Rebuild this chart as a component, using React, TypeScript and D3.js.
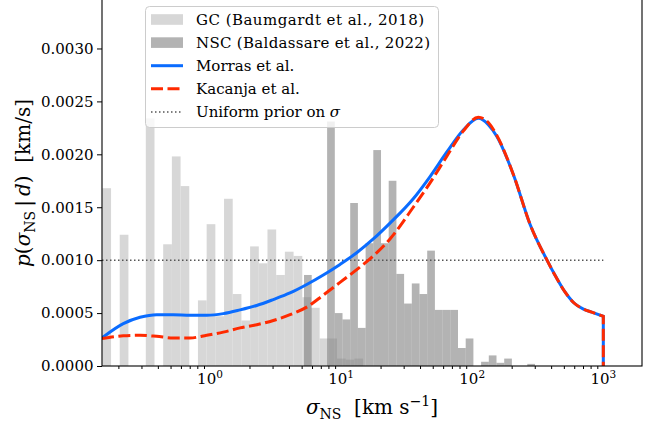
import React, { useRef, useEffect } from 'react';
import * as d3 from 'd3';

// histogram of GC dispersions (Baumgardt et al., 2018): log bins starting at gcBinLo, width gcBinDex (dex)
const gcBinLo = 0.1509;
const gcBinDex = 0.0663;
const gcHeights = [0.00168, 0, 0.00124, 0, 0, 0.00234, 0, 0.00115, 0.00198, 0.0017, 0, 0.00062, 0.00134, 0.00047, 0.00158,
  0.00068, 0.00043, 0.00113, 0.00097, 0.00129, 0.00086, 0.00108, 0.00104, 0.00065, 0.00055, 0.00026, 0.00026, 0.00007, 0.00006, 0.00007];

// histogram of NSC dispersions (Baldassare et al., 2022)
const nscBinLo = 5.212;
const nscBinDex = 0.05873;
const nscHeights = [0.00086, 0, 0, 0.00231, 0.0005, 0.00044, 0.00154, 0.00036, 0.00116, 0.00204, 0.00116, 0.00175, 0.00087, 0.00059,
  0.00078, 0.00068, 0.00109, 0.00053, 0.00053, 0.00053, 0.00017, 0.00026, 0, 0.00004, 0.0001, 0.00003, 0.00007, 0, 0, 0.00002];

// posterior curves p(sigma_NS | d)
const sigmaGrid = [0.15, 0.218, 0.2924, 0.392, 0.525, 0.704, 0.944, 1.263, 1.694, 2.271, 3.04, 4.076, 5.466, 7.314, 9.81, 13.15,
  17.6, 23.6, 35.5, 47.7, 63.9, 85.5, 111.3, 132.7, 153.8, 205.9, 276, 372, 436, 510, 598, 700, 835, 1000];
const morras = [0.000265, 0.0004, 0.00046, 0.000485, 0.000485, 0.00048, 0.00048, 0.000495, 0.00053, 0.000572, 0.000628, 0.00069,
  0.00077, 0.00086, 0.00096, 0.00107, 0.0012, 0.00135, 0.00158, 0.00179, 0.00202, 0.00223, 0.00234, 0.00228, 0.00217, 0.00181,
  0.00134, 0.001, 0.00084, 0.0007, 0.000595, 0.00054, 0.000505, 0.00047];
const kacanja = [0.00026, 0.000285, 0.00029, 0.00028, 0.000265, 0.000265, 0.00029, 0.00032, 0.00036, 0.00039, 0.00043, 0.000485,
  0.000556, 0.00067, 0.00079, 0.00091, 0.00104, 0.0012, 0.0015, 0.00173, 0.00198, 0.00222, 0.00235, 0.0023, 0.00218, 0.00181,
  0.00134, 0.001, 0.00084, 0.0007, 0.000595, 0.00054, 0.000505, 0.00047];

// uniform prior on sigma
const priorSigma = [0.15, 1000];
const priorP = [0.001, 0.001];

const xMajor = [1, 10, 100, 1000];
const yTicks = [0, 0.0005, 0.001, 0.0015, 0.002, 0.0025, 0.003];

const FONT = 'DejaVu Serif';
const BLUE = '#0a6cff';
const RED = '#ff2a00';

const Chart = function () {
  const svgRef = useRef(null);
  useEffect(function () {
    const left = 102, right = 642, top = 0, bottom = 366;
    const svg = d3.select(svgRef.current);
    svg.selectAll('*').remove();

    const x = d3.scaleLog().domain([0.15, 1973]).range([left, right]);
    const y = d3.scaleLinear().domain([0, 0.003458]).range([bottom, top]);

    svg.append('defs').append('clipPath').attr('id', 'plotclip')
      .append('rect').attr('x', left).attr('y', top).attr('width', right - left).attr('height', bottom - top);

    const plot = svg.append('g').attr('clip-path', 'url(#plotclip)');

    // histograms
    const drawHist = function (lo, dex, heights, fill, opacity) {
      const bins = heights.map(function (h, i) {
        return { a: lo * Math.pow(10, i * dex), b: lo * Math.pow(10, (i + 1) * dex), h: h };
      }).filter(function (d) { return d.h > 0; });
      plot.append('g').selectAll('rect').data(bins).enter().append('rect')
        .attr('x', function (d) { return x(d.a); })
        .attr('width', function (d) { return x(d.b) - x(d.a); })
        .attr('y', function (d) { return y(d.h); })
        .attr('height', function (d) { return y(0) - y(d.h); })
        .attr('fill', fill)
        .attr('fill-opacity', opacity);
    };
    drawHist(gcBinLo, gcBinDex, gcHeights, '#d3d3d3', 0.9);
    drawHist(nscBinLo, nscBinDex, nscHeights, '#808080', 0.6);

    // prior
    plot.append('line')
      .attr('x1', x(priorSigma[0])).attr('x2', x(priorSigma[1]))
      .attr('y1', y(priorP[0])).attr('y2', y(priorP[1]))
      .attr('stroke', '#555').attr('stroke-width', 1.5).attr('stroke-dasharray', '1.5,2.5');

    // posterior curves, ending with a drop to zero at the upper bound
    const line = d3.line().x(function (d) { return x(d[0]); }).y(function (d) { return y(d[1]); }).curve(d3.curveMonotoneX);
    const curvePath = function (vals) {
      const pts = sigmaGrid.map(function (s, i) { return [s, vals[i]]; });
      const last = sigmaGrid[sigmaGrid.length - 1];
      return line(pts) + 'L' + x(last) + ',' + y(0);
    };
    plot.append('path').attr('d', curvePath(morras)).attr('fill', 'none')
      .attr('stroke', BLUE).attr('stroke-width', 3);
    plot.append('path').attr('d', curvePath(kacanja)).attr('fill', 'none')
      .attr('stroke', RED).attr('stroke-width', 3).attr('stroke-dasharray', '12,4.5');

    // axes
    const minor = [];
    [0.1, 1, 10, 100, 1000].forEach(function (dec) {
      for (let k = 2; k <= 9; k++) {
        const v = k * dec;
        if (v >= 0.15 && v <= 1973) minor.push(v);
      }
    });
    const xg = svg.append('g').attr('transform', 'translate(0,' + bottom + ')');
    xg.call(d3.axisBottom(x).tickValues(xMajor).tickSize(5).tickFormat(function () { return ''; }));
    xg.call(d3.axisBottom(x).tickValues(minor).tickSize(3).tickFormat(function () { return ''; }));
    xg.selectAll('.domain').remove();
    xg.selectAll('line').attr('stroke', '#000').attr('stroke-width', 1);
    xMajor.forEach(function (v) {
      const t = svg.append('text').attr('x', x(v)).attr('y', 384).attr('text-anchor', 'middle')
        .attr('font-family', FONT).attr('font-size', 15).attr('fill', '#000');
      t.append('tspan').text('10');
      t.append('tspan').attr('dy', -6).attr('font-size', 10.5).text(String(Math.round(Math.log10(v))));
    });

    const yg = svg.append('g').attr('transform', 'translate(' + left + ',0)');
    yg.call(d3.axisLeft(y).tickValues(yTicks).tickSize(5).tickPadding(3.5).tickFormat(d3.format('.4f')));
    yg.selectAll('.domain').remove();
    yg.selectAll('line').attr('stroke', '#000').attr('stroke-width', 1);
    yg.selectAll('text').attr('font-family', FONT).attr('font-size', 15).attr('fill', '#000');

    // spines
    svg.append('rect').attr('x', left).attr('y', top - 1).attr('width', right - left).attr('height', bottom - top + 1)
      .attr('fill', 'none').attr('stroke', '#000').attr('stroke-width', 1.1);

    // axis labels
    const xl = svg.append('text').attr('x', (left + right) / 2).attr('y', 414).attr('text-anchor', 'middle')
      .attr('font-family', FONT).attr('font-size', 20).attr('fill', '#000').style('white-space', 'pre');
    xl.append('tspan').attr('font-style', 'italic').text('σ');
    xl.append('tspan').attr('font-size', 14).attr('dy', 4.5).text('NS');
    xl.append('tspan').attr('dy', -4.5).text('  [km s');
    xl.append('tspan').attr('font-size', 14).attr('dy', -8).text('−1');
    xl.append('tspan').attr('dy', 8).text(']');

    const yl = svg.append('text').attr('transform', 'translate(30,' + (top + bottom) / 2 + ') rotate(-90)')
      .attr('text-anchor', 'middle').attr('font-family', FONT).attr('font-size', 20).attr('fill', '#000')
      .style('white-space', 'pre');
    yl.append('tspan').attr('font-style', 'italic').text('p');
    yl.append('tspan').text('(');
    yl.append('tspan').attr('font-style', 'italic').text('σ');
    yl.append('tspan').attr('font-size', 14).attr('dy', 4.5).text('NS');
    yl.append('tspan').attr('dy', -4.5).text('\u2009|\u2009');
    yl.append('tspan').attr('font-style', 'italic').text('d');
    yl.append('tspan').text(')  [km/s]');

    // legend
    const lg = svg.append('g');
    lg.append('rect').attr('x', 145.5).attr('y', 6.5).attr('width', 293).attr('height', 121).attr('rx', 4)
      .attr('fill', '#fff').attr('fill-opacity', 0.8).attr('stroke', '#cccccc').attr('stroke-width', 1);
    const items = [
      { label: 'GC (Baumgardt et al., 2018)', kind: 'patch', fill: '#d3d3d3', op: 0.9, len: 228 },
      { label: 'NSC (Baldassare et al., 2022)', kind: 'patch', fill: '#808080', op: 0.6, len: 234 },
      { label: 'Morras et al.', kind: 'line', stroke: BLUE, dash: null, w: 3 },
      { label: 'Kacanja et al.', kind: 'line', stroke: RED, dash: '12,4.5', w: 3 },
      { label: 'Uniform prior on ', kind: 'line', stroke: '#555', dash: '1.5,2.5', w: 1.5, sym: 'σ' }
    ];
    items.forEach(function (it, i) {
      const cy = 19.5 + i * 23.1;
      if (it.kind === 'patch') {
        lg.append('rect').attr('x', 151).attr('y', cy - 5.3).attr('width', 32).attr('height', 10.6)
          .attr('fill', it.fill).attr('fill-opacity', it.op);
      } else {
        lg.append('line').attr('x1', 151).attr('x2', 183).attr('y1', cy).attr('y2', cy)
          .attr('stroke', it.stroke).attr('stroke-width', it.w).attr('stroke-dasharray', it.dash);
      }
      const t = lg.append('text').attr('x', 196).attr('y', cy + 5.5).attr('font-family', FONT).attr('font-size', 15)
        .attr('fill', '#000').style('white-space', 'pre');
      if (it.len) t.attr('textLength', it.len).attr('lengthAdjust', 'spacing');
      t.append('tspan').text(it.label);
      if (it.sym) t.append('tspan').attr('font-style', 'italic').text(it.sym);
    });
  }, []);
  return (<svg ref={svgRef} width={665} height={424} style={{ position: 'absolute', left: 0, top: 0, background: '#fff' }}></svg>);
};

export default function App() {
  return <Chart />;
}
